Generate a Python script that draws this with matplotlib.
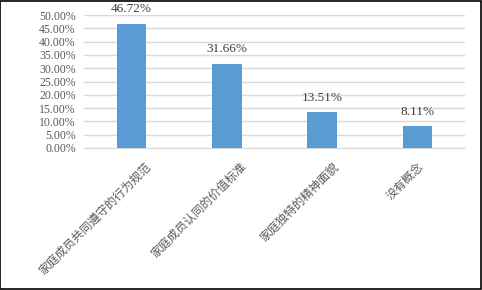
import matplotlib
matplotlib.use("Agg")
import matplotlib.pyplot as plt
from matplotlib.ticker import FuncFormatter, MultipleLocator
from matplotlib.patches import Rectangle
from matplotlib.transforms import ScaledTranslation

categories = ["家庭成员共同遵守的行为规范", "家庭成员认同的价值标准", "家庭独特的精神面貌", "没有概念"]
values = [46.72, 31.66, 13.51, 8.11]
value_labels = ["46.72%", "31.66%", "13.51%", "8.11%"]

# layout: horizontal shift (pixels) of each rotated category label
label_dx = [17, 17, 15, 4]

serif = ["Liberation Serif", "DejaVu Serif"]
cjk = ["Noto Sans CJK SC", "DejaVu Sans"]
text_color = "#595959"

fig = plt.figure(figsize=(4.82, 2.90), dpi=100)
ax = fig.add_axes([84/482, 1 - 148/290, (465-84)/482, (148-15)/290])

x = list(range(len(categories)))
ax.bar(x, values, width=0.31, color="#5B9BD5", zorder=3)
ax.set_xlim(-0.5, len(categories) - 0.5)
ax.set_ylim(0, 50)
ax.yaxis.set_major_locator(MultipleLocator(5))
ax.yaxis.set_major_formatter(FuncFormatter(lambda v, p: f"{v:.2f}%"))
ax.grid(axis="y", color="#D9D9D9", linewidth=1, zorder=0)
for s in ["top", "right", "left"]:
    ax.spines[s].set_visible(False)
ax.spines["bottom"].set_color("#D9D9D9")
ax.tick_params(axis="both", length=0, colors=text_color)
ax.tick_params(axis="y", pad=6)
for lab in ax.get_yticklabels():
    lab.set_fontfamily(serif)
    lab.set_fontsize(8.5)

ax.set_xticks(x)
ax.set_xticklabels(categories, rotation=45, ha="right", va="center",
                   rotation_mode="anchor", fontsize=8.5, family=cjk, color=text_color)
ax.tick_params(axis="x", pad=12)
for lab, dx in zip(ax.get_xticklabels(), label_dx):
    lab.set_transform(lab.get_transform() + ScaledTranslation(dx / 100, 0, fig.dpi_scale_trans))

for xi, v, t in zip(x, values, value_labels):
    ax.annotate(t, (xi, v), xytext=(0, 6), textcoords="offset points",
                ha="center", va="bottom", fontsize=9.5, family=serif, color="#404040")

fig.patches.append(Rectangle((0.001, 0.002), 0.997, 0.995, transform=fig.transFigure,
                             fill=False, edgecolor="black", linewidth=1.2))

fig.savefig("out.png", dpi=100)
